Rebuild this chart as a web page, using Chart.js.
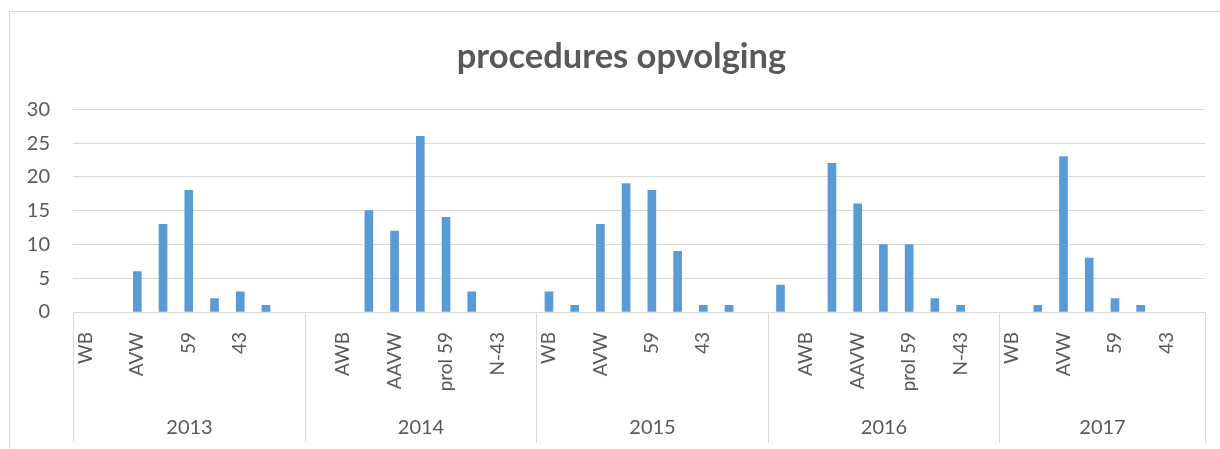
<!DOCTYPE html>
<html>
<head>
<meta charset="utf-8">
<script src="https://cdn.jsdelivr.net/npm/chart.js@4/dist/chart.umd.min.js"></script>
<style>
  body { margin: 0; background: #fff; }
  #kader { position: absolute; left: 9px; top: 11px; width: 1230px; height: 460px; border: 1px solid #d9d9d9; }
  #wrap { position: absolute; left: 0; top: 0; width: 1220px; height: 449px; }
</style>
</head>
<body>
<div id="kader"></div>
<div id="wrap"><canvas id="grafiek"></canvas></div>
<script>
// --- data ---
const jaren = ['2013', '2014', '2015', '2016', '2017'];
const soorten = ['WB', 'AWB', 'AVW', 'AAVW', '59', 'prol 59', '43', 'N-43', ''];
const soorten2017 = ['WB', 'AWB', 'AVW', 'AAVW', '59', 'prol 59', '43', 'N-43'];
const waarden2013 = [0, 0, 6, 13, 18, 2, 3, 1, 0];
const waarden2014 = [0, 0, 15, 12, 26, 14, 3, 0, 0];
const waarden2015 = [3, 1, 13, 19, 18, 9, 1, 1, 0];
const waarden2016 = [4, 0, 22, 16, 10, 10, 2, 1, 0];
const waarden2017 = [0, 1, 23, 8, 2, 1, 0, 0];
const yTicks = [0, 5, 10, 15, 20, 25, 30];

const groepen = [
  { jaar: jaren[0], labels: soorten, waarden: waarden2013 },
  { jaar: jaren[1], labels: soorten, waarden: waarden2014 },
  { jaar: jaren[2], labels: soorten, waarden: waarden2015 },
  { jaar: jaren[3], labels: soorten, waarden: waarden2016 },
  { jaar: jaren[4], labels: soorten2017, waarden: waarden2017 }
];

let labels = [], data = [];
groepen.forEach(g => {
  g.start = labels.length;
  labels = labels.concat(g.labels);
  data = data.concat(g.waarden);
  g.eind = labels.length - 1;
});

const tekstKleur = '#595959';
const lijnKleur = '#d9d9d9';
const lettertype = 'Lato, Carlito, Calibri, sans-serif';

// titel iets naar rechts, zoals in het Excel-kader
const titelSchuif = {
  id: 'titelSchuif',
  afterLayout(chart) {
    if (chart.titleBlock) {
      chart.titleBlock.left += 14;
      chart.titleBlock.right += 14;
    }
  }
};

// jaartallen en scheidingslijnen onder de as
const jaarAs = {
  id: 'jaarAs',
  afterDraw(chart) {
    const x = chart.scales.x;
    const ctx = chart.ctx;
    const half = (x.getPixelForValue(1) - x.getPixelForValue(0)) / 2;
    const top = chart.chartArea.bottom;
    const onder = 443;
    ctx.save();
    ctx.strokeStyle = lijnKleur;
    ctx.lineWidth = 1;
    ctx.fillStyle = tekstKleur;
    ctx.font = '20px ' + lettertype;
    ctx.textAlign = 'center';
    ctx.textBaseline = 'middle';
    groepen.forEach((g, i) => {
      const links = Math.round(x.getPixelForValue(g.start) - half) + 0.5;
      const rechts = Math.round(x.getPixelForValue(g.eind) + half) + 0.5;
      ctx.beginPath();
      ctx.moveTo(links, top);
      ctx.lineTo(links, onder);
      if (i === groepen.length - 1) {
        ctx.moveTo(rechts, top);
        ctx.lineTo(rechts, onder);
      }
      ctx.stroke();
      ctx.fillText(g.jaar, (links + rechts) / 2, 428);
    });
    ctx.restore();
  }
};

const ctx = document.getElementById('grafiek').getContext('2d');
new Chart(ctx, {
  type: 'bar',
  data: {
    labels: labels,
    datasets: [{
      label: 'procedures',
      data: data,
      backgroundColor: c => (c.raw ? '#5b9bd5' : 'rgba(0,0,0,0)'),
      borderWidth: 0,
      barThickness: 8
    }]
  },
  options: {
    responsive: true,
    maintainAspectRatio: false,
    animation: false,
    layout: { padding: { left: 10, right: 15, top: 0, bottom: 0 } },
    plugins: {
      legend: { display: false },
      tooltip: { enabled: false },
      title: {
        display: true,
        text: 'procedures opvolging',
        color: tekstKleur,
        font: { family: lettertype, size: 34.5, weight: 'bold', lineHeight: 1.2 },
        padding: { top: 36, bottom: 32 }
      }
    },
    scales: {
      x: {
        offset: true,
        grid: { display: false, drawTicks: false },
        border: { display: true, color: lijnKleur, width: 1 },
        ticks: {
          autoSkip: false,
          minRotation: 90,
          maxRotation: 90,
          padding: 20,
          color: tekstKleur,
          font: { family: lettertype, size: 19 },
          callback: function (val, index) {
            return index % 2 === 0 ? this.getLabelForValue(val) : '';
          }
        },
        afterFit(scale) {
          scale.height = 137;
          scale.paddingLeft = 0;
          scale.paddingRight = 0;
        }
      },
      y: {
        min: 0,
        max: 30,
        afterBuildTicks(scale) { scale.ticks = yTicks.map(v => ({ value: v })); },
        grid: { color: lijnKleur, drawTicks: false },
        border: { display: false },
        ticks: {
          padding: 23,
          color: tekstKleur,
          font: { family: lettertype, size: 20 }
        },
        afterFit(scale) { scale.width = 63; }
      }
    }
  },
  plugins: [titelSchuif, jaarAs]
});
</script>
</body>
</html>
